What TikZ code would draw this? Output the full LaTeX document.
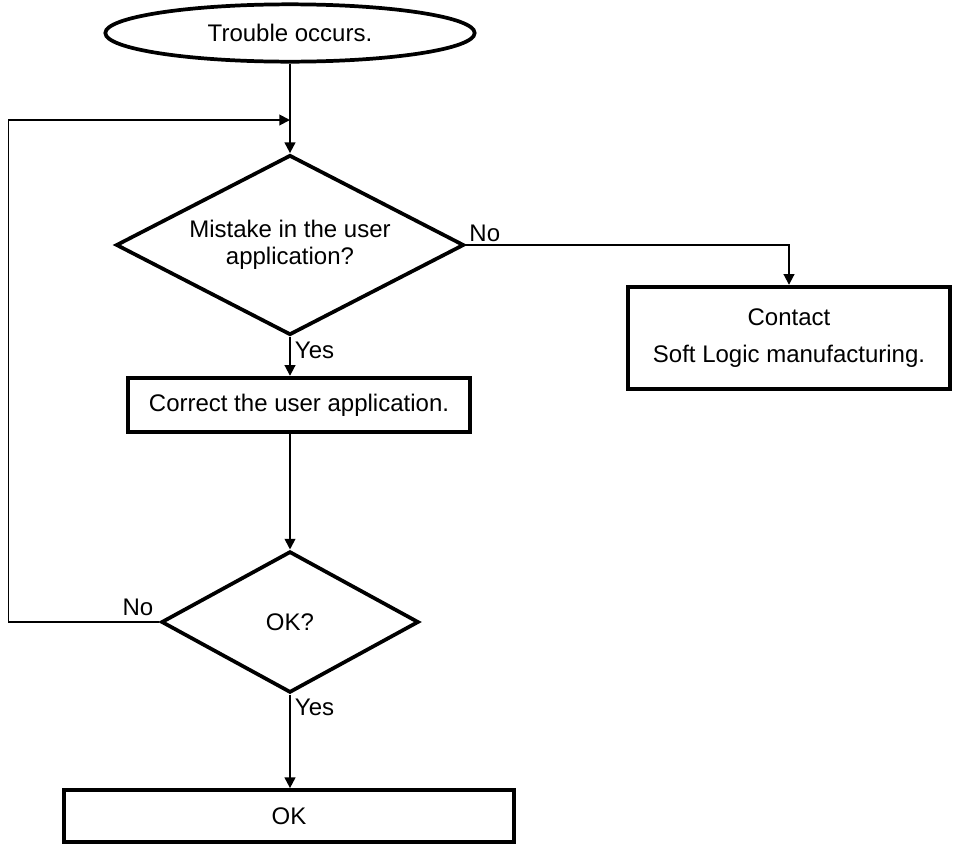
\documentclass[tikz,border=0pt]{standalone}
\usepackage{fontspec}
\setmainfont{Liberation Sans}
\usetikzlibrary{arrows.meta,positioning,shapes.geometric}

\begin{document}
\begin{tikzpicture}[
  x=0.75pt, y=-0.75pt,
  font=\fontsize{18}{20}\selectfont,
  startbox/.style={draw, ellipse, line width=2.8pt, minimum width=277pt,
                   minimum height=43pt, inner sep=0pt},
  decision/.style={draw, diamond, line width=2.8pt, inner sep=0pt, align=center},
  stepbox/.style={draw, rectangle, line width=2.8pt, inner sep=0pt, align=center},
  flow/.style={-{Triangle[length=8pt,width=8pt]}, line width=1.4pt}
]
  \useasboundingbox (0,0) rectangle (953,843);

  \node[startbox] (trouble) at (290,33) {Trouble occurs.};
  \node[decision, aspect=1.93, minimum width=261pt, minimum height=135pt] (mistake)
    at (290,245) {Mistake in the user\\application?};
  \node[stepbox, minimum width=242pt, minimum height=77pt] (contact) at (789,338)
    {Contact\\[8pt]Soft Logic manufacturing.};
  \node[stepbox, minimum width=256pt, minimum height=41pt] (correct) at (299,405)
    {Correct the user application.};
  \node[decision, aspect=1.82, minimum width=193pt, minimum height=106pt] (okq)
    at (290,622) {OK?};
  \node[stepbox, minimum width=338pt, minimum height=39pt] (okbox) at (289,816) {OK};
  \coordinate (loopin) at (290,120);

  \draw[flow] (trouble) -- (mistake);
  \draw[flow] (mistake.east) node[above right, inner sep=2pt] {No} -| (contact.north);
  \draw[flow] (mistake.south) node[below right, inner sep=3pt] {Yes}
    -- (mistake.south |- correct.north);
  \draw[flow] (okq.north |- correct.south) -- (okq.north);
  \draw[flow] (okq.south) node[below right, inner sep=3pt] {Yes}
    -- (okq.south |- okbox.north);
  \draw[flow] (okq.west) node[above left, inner sep=4pt] {No} -- ++(-151,0) |- (loopin);
\end{tikzpicture}
\end{document}
